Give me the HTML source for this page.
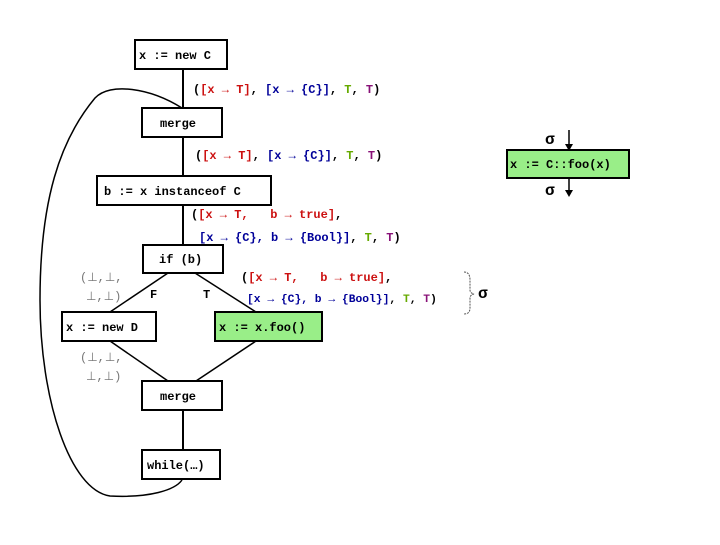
<!DOCTYPE html>
<html><head><meta charset="utf-8"><style>
html,body{margin:0;padding:0;background:#fff;}
text{font-family:"Liberation Mono",monospace;font-weight:bold;font-size:12px;}
.r{fill:#cc1111}.b{fill:#000099}.g{fill:#66aa00}.p{fill:#881177}.k{fill:#000}.gr{fill:#777;font-weight:normal}
</style></head><body>
<svg width="720" height="540" viewBox="0 0 720 540" xmlns="http://www.w3.org/2000/svg">
<g stroke="#000" stroke-width="2" fill="none">
<line x1="183" y1="69" x2="183" y2="108"/>
<line x1="183" y1="137" x2="183" y2="176"/>
<line x1="183" y1="205" x2="183" y2="245"/>
<line x1="183" y1="410" x2="183" y2="450"/>
</g>
<g stroke="#000" stroke-width="1.5" fill="none">
<line x1="168" y1="273" x2="110" y2="312"/>
<line x1="195" y1="273" x2="256" y2="312"/>
<line x1="110" y1="341" x2="168" y2="381"/>
<line x1="256" y1="341" x2="196" y2="381"/>
<path d="M182,108 C150,88 110,82 95,98 C60,140 40,200 40,300 C40,400 70,490 110,496 C150,498 175,490 182,480"/>
<line x1="569" y1="130" x2="569" y2="148"/>
<line x1="569" y1="178" x2="569" y2="194"/>
</g>
<polygon points="565,144 573,144 569,151" fill="#000"/>
<polygon points="565,190 573,190 569,197" fill="#000"/>
<g stroke="#000" stroke-width="2">
<rect x="135" y="40" width="92" height="29" fill="#fff"/>
<rect x="142" y="108" width="80" height="29" fill="#fff"/>
<rect x="97" y="176" width="174" height="29" fill="#fff"/>
<rect x="143" y="245" width="80" height="28" fill="#fff"/>
<rect x="62" y="312" width="94" height="29" fill="#fff"/>
<rect x="215" y="312" width="107" height="29" fill="#99ee88"/>
<rect x="142" y="381" width="80" height="29" fill="#fff"/>
<rect x="142" y="450" width="78" height="29" fill="#fff"/>
<rect x="507" y="150" width="122" height="28" fill="#99ee88"/>
</g>
<text x="139" y="59" class="k">x := new C</text>
<text x="160" y="127" class="k">merge</text>
<text x="104" y="195" class="k">b := x instanceof C</text>
<text x="159" y="263" class="k">if (b)</text>
<text x="66" y="331" class="k">x := new D</text>
<text x="219" y="331" class="k">x := x.foo()</text>
<text x="160" y="400" class="k">merge</text>
<text x="147" y="469" class="k">while(…)</text>
<text x="510" y="168" class="k">x := C::foo(x)</text>
<text x="545" y="144" class="k" style="font-size:16px">σ</text>
<text x="545" y="195" class="k" style="font-size:16px">σ</text>
<text x="478" y="298" class="k" style="font-size:16px">σ</text>
<text x="193" y="93" xml:space="preserve"><tspan class="k">(</tspan><tspan class="r">[x → T]</tspan><tspan class="k">, </tspan><tspan class="b">[x → {C}]</tspan><tspan class="k">, </tspan><tspan class="g">T</tspan><tspan class="k">, </tspan><tspan class="p">T</tspan><tspan class="k">)</tspan></text>
<text x="195" y="159" xml:space="preserve"><tspan class="k">(</tspan><tspan class="r">[x → T]</tspan><tspan class="k">, </tspan><tspan class="b">[x → {C}]</tspan><tspan class="k">, </tspan><tspan class="g">T</tspan><tspan class="k">, </tspan><tspan class="p">T</tspan><tspan class="k">)</tspan></text>
<text x="191" y="218" xml:space="preserve"><tspan class="k">(</tspan><tspan class="r">[x → T,   b → true]</tspan><tspan class="k">,</tspan></text>
<text x="199" y="241" xml:space="preserve"><tspan class="b">[x → {C}, b → {Bool}]</tspan><tspan class="k">, </tspan><tspan class="g">T</tspan><tspan class="k">, </tspan><tspan class="p">T</tspan><tspan class="k">)</tspan></text>
<text x="241" y="281" xml:space="preserve"><tspan class="k">(</tspan><tspan class="r">[x → T,   b → true]</tspan><tspan class="k">,</tspan></text>
<text x="247" y="302" xml:space="preserve" style="font-size:11.3px"><tspan class="b">[x → {C}, b → {Bool}]</tspan><tspan class="k">, </tspan><tspan class="g">T</tspan><tspan class="k">, </tspan><tspan class="p">T</tspan><tspan class="k">)</tspan></text>
<path d="M464,272 Q470,272 470,280 L470,290 Q470,293 474,294 Q470,295 470,298 L470,308 Q470,314 464,314" stroke="#555" stroke-width="1" fill="none" stroke-dasharray="2,1"/>
<text x="80" y="281" class="gr">(⊥,⊥,</text>
<text x="86" y="300" class="gr">⊥,⊥)</text>
<text x="80" y="361" class="gr">(⊥,⊥,</text>
<text x="86" y="380" class="gr">⊥,⊥)</text>
<text x="150" y="298" class="k">F</text>
<text x="203" y="298" class="k">T</text>
</svg>
</body></html>
